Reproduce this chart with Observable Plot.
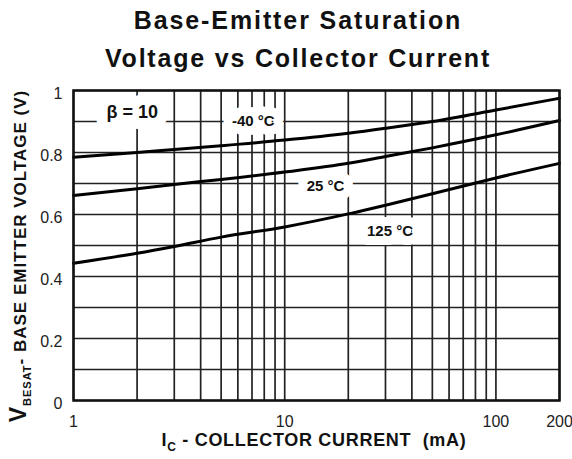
<!DOCTYPE html>
<html><head><meta charset="utf-8">
<script src="https://cdn.jsdelivr.net/npm/d3@7"></script>
<script src="https://cdn.jsdelivr.net/npm/@observablehq/plot@0.6"></script>
<style>
body{margin:0;background:#fff;font-family:"Liberation Sans",Arial,sans-serif;}
#title{width:572px;height:78px;padding-top:1px;box-sizing:border-box;text-align:center;font-weight:bold;font-size:25px;line-height:38px;color:#111;}
#title div{white-space:nowrap;padding-left:24px}
</style></head><body>
<div id="title"><div style="letter-spacing:1.9px">Base-Emitter Saturation</div><div style="letter-spacing:1.8px">Voltage vs Collector Current</div></div>
<div id="chart"></div>
<script>
// Data
const currents = [1, 2, 3, 5, 10, 20, 30, 50, 100, 200]; // mA
const series = ["-40 °C", "25 °C", "125 °C"];
const vMinus40 = [0.785, 0.800, 0.810, 0.822, 0.840, 0.862, 0.878, 0.900, 0.937, 0.975];
const v25 = [0.661, 0.683, 0.697, 0.713, 0.737, 0.765, 0.787, 0.815, 0.857, 0.903];
const v125 = [0.443, 0.475, 0.497, 0.527, 0.560, 0.602, 0.630, 0.667, 0.718, 0.765];

const xTickValues = [1, 10, 100, 200];
const xTickLabels = ["1", "10", "100", "200"];
const yTickValues = [0, 0.2, 0.4, 0.6, 0.8, 1];
const yTickLabels = ["0", "0.2", "0.4", "0.6", "0.8", "1"];
const xGrid = [1, 2, 3, 4, 5, 6, 7, 8, 9, 10, 20, 30, 40, 50, 60, 70, 80, 90, 100, 200];
const yGrid = [0, 0.1, 0.2, 0.3, 0.4, 0.5, 0.6, 0.7, 0.8, 0.9, 1];

// curve labels (data coordinates)
const labelText = ["-40 °C", "25 °C", "125 °C"];
const labelX = [7.1, 15.6, 31.5];
const labelY = [0.90, 0.69, 0.545];
const betaText = "β = 10";
const betaX = 1.9, betaY = 0.929;

const allVals = [vMinus40, v25, v125];
const rows = [];
series.forEach((s, i) => currents.forEach((c, j) => rows.push({series: s, ic: c, v: allVals[i][j]})));
const labels = labelText.map((t, i) => ({t, x: labelX[i], y: labelY[i]}));

const plot = Plot.plot({
  width: 572, height: 381,
  marginTop: 12, marginBottom: 59, marginLeft: 73, marginRight: 13,
  style: {fontFamily: "'Liberation Sans', Arial, sans-serif", fontSize: "16px", color: "#222", background: "white"},
  x: {type: "log", domain: [1, 200]},
  y: {domain: [0, 1]},
  marks: [
    Plot.ruleX(xGrid, {stroke: "#222", strokeWidth: 1.7}),
    Plot.ruleY(yGrid, {stroke: "#222", strokeWidth: 1.7}),
    Plot.line(rows, {x: "ic", y: "v", z: "series", stroke: "#000", strokeWidth: 3, curve: "monotone-x"}),
    Plot.text(labels, {x: "x", y: "y", text: "t", fontWeight: "bold", fontSize: 15, fill: "#111", stroke: "white", strokeWidth: 18, paintOrder: "stroke"}),
    Plot.text([betaText], {x: () => betaX, y: () => betaY, text: d => d, fontWeight: "bold", fontSize: 18, fill: "#111", stroke: "white", strokeWidth: 22, paintOrder: "stroke"}),
    Plot.frame({stroke: "#111", strokeWidth: 2.5}),
    Plot.axisX(xTickValues, {tickSize: 0, tickPadding: 15, tickFormat: (d) => xTickLabels[xTickValues.indexOf(d)], label: null, fontSize: 16, fill: "#222"}),
    Plot.axisY(yTickValues, {tickSize: 0, tickPadding: 11, dy: 3, tickFormat: (d) => yTickLabels[yTickValues.indexOf(d)], label: null, fontSize: 16, fill: "#222"})
  ]
});
document.getElementById("chart").appendChild(plot);

const svg = d3.select(plot);
const yl = svg.append("text")
  .attr("transform", "translate(26,178) rotate(-90)")
  .attr("text-anchor", "middle").attr("font-weight", "bold").attr("font-size", 17).attr("fill", "#111")
  .attr("letter-spacing", 1);
yl.append("tspan").attr("font-size", 23).text("V");
yl.append("tspan").attr("font-size", 11).attr("dy", 5).text("BESAT");
yl.append("tspan").attr("dy", -5).text("- BASE EMITTER VOLTAGE (V)");

const xl = svg.append("text")
  .attr("x", 314).attr("y", 368)
  .attr("text-anchor", "middle").attr("font-weight", "bold").attr("font-size", 18).attr("fill", "#111")
  .attr("letter-spacing", 0.7).style("white-space", "pre");
xl.append("tspan").text("I");
xl.append("tspan").attr("font-size", 12).attr("dy", 5).text("C");
xl.append("tspan").attr("dy", -5).text(" - COLLECTOR CURRENT  (mA)");
</script>
</body></html>
